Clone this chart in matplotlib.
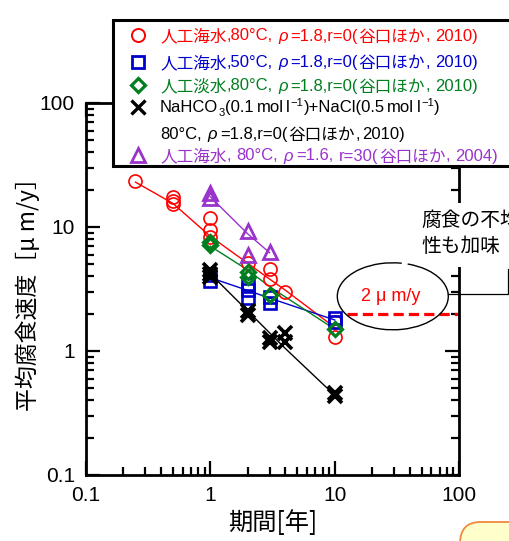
import matplotlib
matplotlib.use("Agg")
import matplotlib.pyplot as plt
from matplotlib.patches import Rectangle, Arc, FancyBboxPatch
from matplotlib.lines import Line2D
from matplotlib.ticker import FixedLocator, FixedFormatter, LogLocator, NullFormatter

CJK = ['Noto Sans CJK JP', 'DejaVu Sans']
LAT = ['Liberation Sans', 'DejaVu Sans']
plt.rcParams['font.family'] = CJK

# ---------------- data ----------------
red_x = [0.25, 0.5, 0.5, 0.5, 1, 1, 1, 2, 3, 3, 4, 10, 10]
red_y = [23.5, 17.5, 16.2, 15.2, 11.8, 9.5, 8.3, 5.1, 4.6, 3.8, 3.0, 1.7, 1.3]
red_line_x = [0.25, 0.5, 1, 2, 3, 4, 10]
red_line_y = [23.0, 15.5, 8.4, 5.1, 3.8, 3.1, 1.55]

blue_x = [1, 1, 2, 2, 2, 3, 3, 10, 10]
blue_y = [4.1, 3.7, 3.5, 3.1, 2.7, 2.75, 2.45, 1.85, 1.72]
blue_line_x = [1, 2, 3, 10]
blue_line_y = [3.9, 3.08, 2.67, 1.78]

green_x = [1, 1, 2, 2, 3, 10]
green_y = [7.5, 7.2, 4.35, 3.97, 2.85, 1.5]
green_line_x = [1, 2, 3, 10]
green_line_y = [7.0, 4.5, 3.3, 1.5]

black_x = [1, 1, 1, 2, 2, 3, 3, 4, 4, 10, 10]
black_y = [4.5, 4.2, 3.95, 2.1, 1.95, 1.27, 1.19, 1.4, 1.19, 0.46, 0.43]
black_line_x = [1, 2, 3, 4, 10]
black_line_y = [4.2, 2.1, 1.4, 1.05, 0.44]

purple_x = [1, 1, 2, 2, 3]
purple_y = [18.7, 17.0, 9.2, 5.9, 6.3]
purple_line_x = [1, 2, 3]
purple_line_y = [17.5, 8.8, 6.2]

limit_x = [12.5, 100]
limit_y = [2, 2]

tick_vals = [0.1, 1, 10, 100]
tick_labels = ['0.1', '1', '10', '100']

# legend rows: (text, kind, gap before in px); kinds: C=CJK, L=latin,
# I=latin italic, SUB / SUP = small latin shifted
legend_rows = [
    [("人工海水", "C", 0), (",80°C,", "L", 0), ("ρ", "I", 5), ("=1.8,r=0(", "L", 2),
     ("谷口ほか", "C", 0), (",", "L", 0), ("2010)", "L", 5)],
    [("人工海水", "C", 0), (",50°C,", "L", 0), ("ρ", "I", 5), ("=1.8,r=0(", "L", 2),
     ("谷口ほか", "C", 0), (",", "L", 0), ("2010)", "L", 5)],
    [("人工淡水", "C", 0), (",80°C,", "L", 0), ("ρ", "I", 5), ("=1.8,r=0(", "L", 2),
     ("谷口ほか", "C", 0), (",", "L", 0), ("2010)", "L", 5)],
    [("NaHCO", "L", 0), ("3", "SUB", 0), ("(0.1", "L", 0), ("mol", "L", 2), ("l", "L", 2),
     ("−1", "SUP", 0), (")+NaCl(0.5", "L", 0), ("mol", "L", 2), ("l", "L", 2),
     ("−1", "SUP", 0), (")", "L", 0)],
    [("80°C,", "L", 0), ("ρ", "I", 5), ("=1.8,r=0(", "L", 3),
     ("谷口ほか", "C", 0), (",", "L", 0), ("2010)", "L", 2)],
    [("人工海水", "C", 0), (",", "L", 0), ("80°C,", "L", 4), ("ρ", "I", 5),
     ("=1.6,", "L", 3), ("r=30(", "L", 5), ("谷口ほか", "C", 0), (",", "L", 0),
     ("2004)", "L", 4)],
]

RED = '#ff0000'
BLUE = '#0000cc'
GREEN = '#007f1f'
BLACK = '#000000'
PURPLE = '#9933cc'

W, H = 510, 541
fig = plt.figure(figsize=(W / 100, H / 100), dpi=100)
renderer = fig.canvas.get_renderer()


def fx(px):
    return px / W


def fy(py):
    return 1 - py / H


ax = fig.add_axes([fx(86), fy(475), (459 - 86) / W, (475 - 103) / H])
ax.set_xscale('log')
ax.set_yscale('log')
ax.set_xlim(0.1, 100)
ax.set_ylim(0.1, 100)

lw = 1.0
ax.plot(red_line_x, red_line_y, color=RED, lw=lw, zorder=2)
ax.plot(blue_line_x, blue_line_y, color=BLUE, lw=lw, zorder=2)
ax.plot(green_line_x, green_line_y, color=GREEN, lw=lw, zorder=2)
ax.plot(black_line_x, black_line_y, color=BLACK, lw=lw, zorder=2)
ax.plot(purple_line_x, purple_line_y, color=PURPLE, lw=lw, zorder=2)

ax.plot(red_x, red_y, 'o', ms=9.4, mfc='none', mec=RED, mew=1.2, zorder=3)
ax.plot(blue_x, blue_y, 's', ms=8.8, mfc='none', mec=BLUE, mew=1.9, zorder=3)
ax.plot(green_x, green_y, 'D', ms=7.4, mfc='none', mec=GREEN, mew=2.3, zorder=4)
ax.plot(black_x, black_y, 'x', ms=10.5, mec=BLACK, mew=2.6, zorder=3)
ax.plot(purple_x, purple_y, '^', ms=10.5, mfc='none', mec=PURPLE, mew=2.0, zorder=3)

ax.plot(limit_x, limit_y, color=RED, lw=2.3, dashes=(3.2, 1.6), zorder=2,
        clip_on=False)

for s in ax.spines.values():
    s.set_linewidth(2.0)

for axis in (ax.xaxis, ax.yaxis):
    axis.set_major_locator(FixedLocator(tick_vals))
    axis.set_major_formatter(FixedFormatter(tick_labels))
    axis.set_minor_locator(LogLocator(base=10, subs=range(2, 10)))
    axis.set_minor_formatter(NullFormatter())

ax.tick_params(which='both', direction='in', top=True, right=True, width=1.6)
ax.tick_params(which='major', length=10, pad=8)
ax.tick_params(which='minor', length=5.5)
for lab in ax.get_xticklabels() + ax.get_yticklabels():
    lab.set_fontfamily('Liberation Sans')
    lab.set_fontsize(15)

ax.set_xlabel('期間[年]', fontsize=17.5)
ax.xaxis.set_label_coords(0.5, -0.095)
ax.set_ylabel('平均腐食速度［μ m/y］', fontsize=16.5)
ax.yaxis.set_label_coords(-0.122, 0.5)

# ---------------- legend box ----------------
fig.add_artist(Rectangle((fx(113), fy(166)), (520 - 113) / W, (166 - 20) / H,
                         transform=fig.transFigure, facecolor='white',
                         edgecolor='black', lw=2.2, zorder=5, clip_on=False))

leg_y = [35, 61.7, 85, 106.7, 133.3, 155]
leg_colors = [RED, BLUE, GREEN, BLACK, BLACK, PURPLE]
leg_markers = [
    dict(marker='o', ms=9.4, mfc='none', mec=RED, mew=1.4),
    dict(marker='s', ms=8.8, mfc='none', mec=BLUE, mew=2.0),
    dict(marker='D', ms=7.4, mfc='none', mec=GREEN, mew=2.3),
    dict(marker='x', ms=9.5, mec=BLACK, mew=2.4),
    None,
    dict(marker='^', ms=10.5, mfc='none', mec=PURPLE, mew=2.0),
]


def rich_text(x0, yc, segs, color):
    x = x0
    base = yc + 5.5
    for txt, kind, gap in segs:
        x += gap
        kw = dict(fontsize=12, family=LAT)
        yb = base
        if kind == 'C':
            kw = dict(fontsize=12, family=CJK)
            yb = base + 1.2
        elif kind == 'I':
            kw = dict(fontsize=12, family=LAT, style='italic')
        elif kind == 'SUB':
            kw = dict(fontsize=8, family=LAT)
            yb = base + 4
        elif kind == 'SUP':
            kw = dict(fontsize=8, family=LAT)
            yb = base - 6.5
        t = fig.text(fx(x), fy(yb), txt, color=color, ha='left', va='baseline',
                     zorder=6, **kw)
        x += t.get_window_extent(renderer).width + 0.5


for yc, col, mk, segs in zip(leg_y, leg_colors, leg_markers, legend_rows):
    if mk is not None:
        fig.add_artist(Line2D([fx(138)], [fy(yc)], transform=fig.transFigure,
                              ls='none', zorder=6, **mk))
    rich_text(160, yc, segs, col)

# ---------------- annotation: 2 um/y ellipse ----------------
cx, cy = 392.8, 296.3
fig.add_artist(Arc((fx(cx), fy(cy)), 111 / W, 67 / H, theta1=74, theta2=424,
                   transform=fig.transFigure, color='black', lw=1.0, zorder=6))
fig.text(fx(391), fy(296.5), '2 μ m/y', color=RED, fontsize=13,
         family=LAT, ha='center', va='center', zorder=6)

# white text box on the right
fig.add_artist(Rectangle((fx(415), fy(267)), (520 - 415) / W, (267 - 203) / H,
                         transform=fig.transFigure, facecolor='white',
                         edgecolor='none', zorder=5))
fig.text(fx(421.7), fy(220), '腐食の不均一', fontsize=14.2, ha='left',
         va='center', zorder=6)
fig.text(fx(421.7), fy(246.7), '性も加味', fontsize=14.2, ha='left',
         va='center', zorder=6)

# connector lines
fig.add_artist(Line2D([fx(448), fx(508), fx(508), fx(515)],
                      [fy(294.3), fy(294.3), fy(269.3), fy(269.3)],
                      transform=fig.transFigure, color='black', lw=0.9,
                      zorder=6))

# orange rounded box at bottom right
fig.add_artist(FancyBboxPatch((fx(460), fy(600)), (600 - 460) / W,
                              (600 - 522) / H,
                              boxstyle='round,pad=0,rounding_size=0.04',
                              transform=fig.transFigure, facecolor='#ffffcc',
                              edgecolor='#f08a3c', lw=1.3, zorder=5))

fig.savefig('out.png', dpi=100)
